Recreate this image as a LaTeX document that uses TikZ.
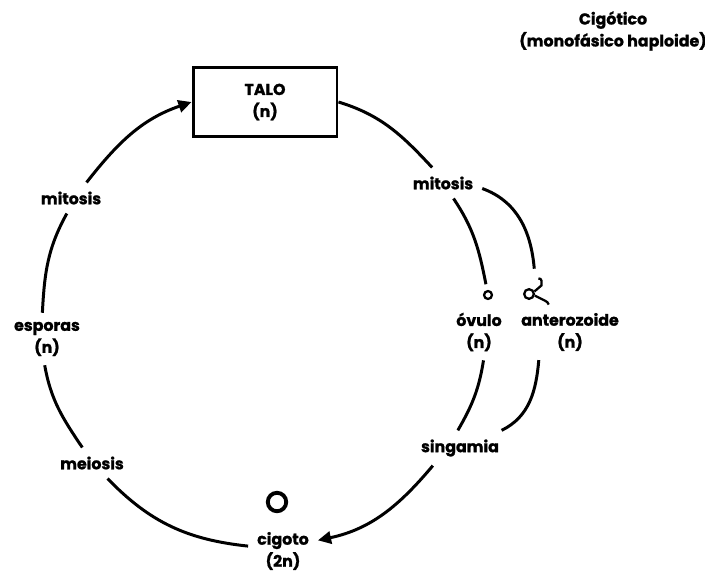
\documentclass[tikz,border=0pt]{standalone}
\usepackage{fontspec}
\setmainfont{Poppins}[BoldFeatures={FakeBold=1.2}]
\usetikzlibrary{arrows.meta,positioning}
\tikzset{
  lbl/.style={font=\bfseries\fontsize{9}{12.5}\selectfont, align=center, inner sep=5pt},
  talobox/.style={draw, line width=1.7pt, minimum width=2.88cm, minimum height=1.38cm,
    align=center, font=\bfseries\fontsize{9}{12.5}\selectfont},
  ciclo/.style={line width=1.7pt},
  flecha/.style={-{Triangle[length=7.5pt,width=7pt]}},
  celula/.style={circle, draw, inner sep=0pt}
}

\begin{document}
\begin{tikzpicture}[x=0.02cm, y=-0.02cm]
  \useasboundingbox (0,0) rectangle (705,571);

  % titulo
  \node[lbl] (titulo) at (613,31) {Cig\'otico\\(monof\'asico haploide)};

  % ciclo
  \node[talobox] (talo) at (265,102) {TALO\\(n)};
  \node[lbl] (mitI) at (71,198) {mitosis};
  \node[lbl] (esp) at (47,339) {esporas\\(n)};
  \node[lbl] (mei) at (92,463) {meiosis};
  \node[lbl] (cig) at (283,551) {cigoto\\(2n)};
  \node[celula, line width=2.2pt, minimum size=10.5pt] (cigc) at (277,502) {};
  \node[lbl] (mitD) at (443,183) {mitosis};
  \node[celula, line width=1.3pt, minimum size=4.5pt, outer sep=4pt] (ovc) at (488,295) {};
  \node[lbl] (ov) at (479,332) {óvulo\\(n)};
  \node[celula, line width=1.3pt, minimum size=5.5pt] (antc) at (529,294) {};
  \node[lbl] (ant) at (570,332) {anterozoide\\(n)};
  \node[lbl] (sing) at (460,448) {singamia};

  \draw[ciclo] (cig.172) to[out=174, in=-46] (mei.-45);
  \draw[ciclo] (mei.122) to[out=124, in=280] (esp.265);
  \draw[ciclo] (esp.100) to[out=87, in=241] (mitI.255);
  \draw[ciclo, flecha] (mitI.45) to[out=52, in=199] (talo.west);
  \draw[ciclo] (talo.east) to[out=-17, in=133] (mitD.125);
  \draw[ciclo] (mitD.-56) to[out=-56, in=101] (ovc.101);
  \draw[ciclo] (ov.-81) to[out=-99, in=60] (sing.97);
  \draw[ciclo, flecha] (sing.213) to[out=-130, in=12] (cig.17);

  % rama del anterozoide
  \draw[ciclo] (mitD.-8) to[out=-20, in=95] ([xshift=3pt, yshift=11pt]antc.north);
  \draw[ciclo] (ant.222) to[out=-95, in=26] (sing.23);
  \draw[line width=1.3pt] (antc.25) -- ++(7,-6) -- ++(0,-5) to[out=90, in=0] ++(-3,-2);
  \draw[line width=1.3pt] (antc.-15) -- ++(10,5) to[out=-25, in=110] ++(4,4);
\end{tikzpicture}
\end{document}
